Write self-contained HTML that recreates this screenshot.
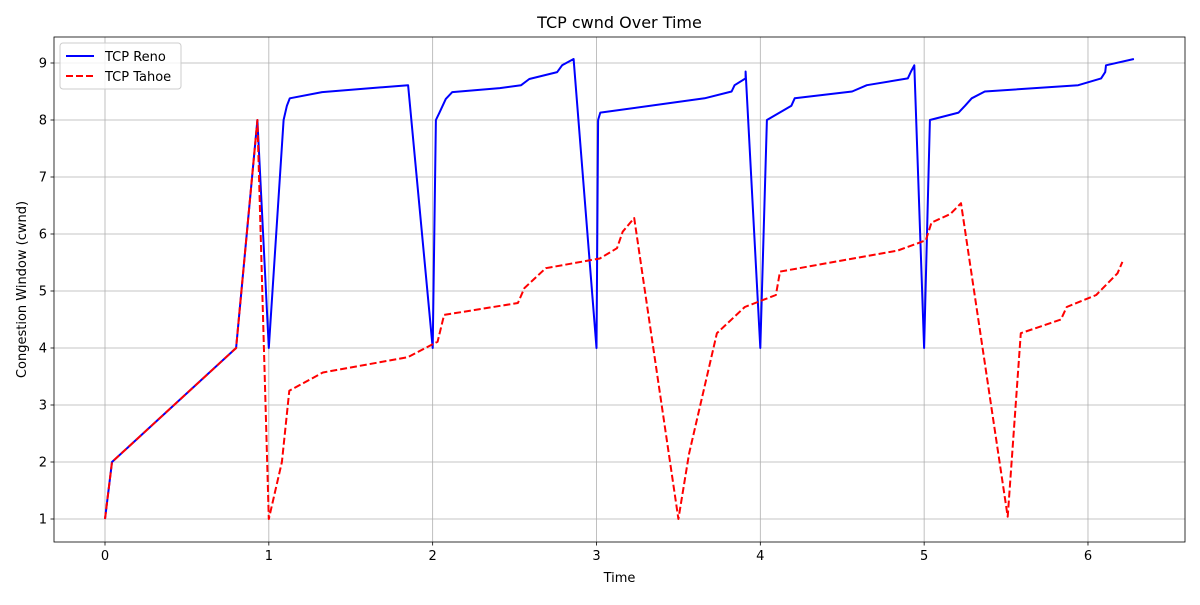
<!DOCTYPE html>
<html><head><meta charset="utf-8"><style>
body{margin:0;background:#fff;font-family:"Liberation Sans","DejaVu Sans",sans-serif}
svg text{font-family:"DejaVu Sans","Liberation Sans",sans-serif;fill:#000}
</style></head><body>
<svg id="chart" width="1200" height="600" xmlns="http://www.w3.org/2000/svg">
<rect width="1200" height="600" fill="#fff"/>
<g id="grid"></g>
<g id="marks"></g>
<rect x="54" y="37" width="1131" height="505" fill="none" stroke="#000" stroke-width="0.8"/>
<g id="ticks"></g>
<text x="619.5" y="28" font-size="16" text-anchor="middle">TCP cwnd Over Time</text>
<text x="619.5" y="582" font-size="13" text-anchor="middle">Time</text>
<text transform="translate(26,289.5) rotate(-90)" font-size="13" text-anchor="middle">Congestion Window (cwnd)</text>
<g>
<rect x="60" y="43" width="121" height="46" rx="3" fill="#fff" fill-opacity="0.8" stroke="#ccc"/>
<g>
<line x1="66" y1="56" x2="94" y2="56" stroke="#0000ff" stroke-width="2"/>
<text x="105" y="61" font-size="13">TCP Reno</text></g>
<g>
<line x1="66" y1="76" x2="94" y2="76" stroke="#ff0000" stroke-width="2" stroke-dasharray="7,3"/>
<text x="105" y="81" font-size="13">TCP Tahoe</text></g>
</g>
</svg>
<script>
const renoX=[0,0.043,0.8,0.93,1.0,1.09,1.11,1.128,1.325,1.85,2.0,2.02,2.04,2.08,2.12,2.41,2.54,2.59,2.76,2.79,2.86,3.0,3.01,3.023,3.66,3.825,3.843,3.91,3.91,4.0,4.04,4.19,4.21,4.56,4.65,4.90,4.92,4.94,5.0,5.035,5.21,5.25,5.29,5.37,5.94,6.08,6.105,6.11,6.28];
const renoY=[1,2,4,8,4,8,8.25,8.38,8.49,8.61,4,8,8.12,8.37,8.49,8.56,8.61,8.72,8.84,8.96,9.07,4,8,8.13,8.38,8.50,8.61,8.73,8.85,4,8,8.25,8.38,8.50,8.61,8.73,8.85,8.96,4,8,8.13,8.25,8.38,8.50,8.61,8.73,8.84,8.96,9.07];
const tahoeX=[0,0.043,0.8,0.93,1.0,1.08,1.125,1.33,1.85,2.03,2.07,2.52,2.56,2.69,3.02,3.125,3.16,3.23,3.50,3.565,3.735,3.905,4.095,4.12,4.84,5.01,5.045,5.16,5.225,5.51,5.59,5.835,5.87,6.05,6.18,6.21];
const tahoeY=[1,2,4,8,1,2,3.25,3.57,3.84,4.11,4.58,4.79,5.05,5.40,5.57,5.75,6.04,6.28,1,2.15,4.26,4.72,4.93,5.34,5.71,5.89,6.20,6.35,6.54,1.04,4.26,4.50,4.72,4.93,5.31,5.51];
const xTicks=[0,1,2,3,4,5,6];
const yTicks=[1,2,3,4,5,6,7,8,9];
const L=54,R=1185,T=37,B=542,xMin=-0.3113,xMax=6.5922,yMin=0.5965,yMax=9.4561;
function sx(v){return L+(v-xMin)/(xMax-xMin)*(R-L);}
function sy(v){return B-(v-yMin)/(yMax-yMin)*(B-T);}
const NS="http://www.w3.org/2000/svg";
function mk(tag,attrs,parent){const e=document.createElementNS(NS,tag);for(const k in attrs)e.setAttribute(k,attrs[k]);parent.appendChild(e);return e;}
const grid=document.getElementById('grid'),ticks=document.getElementById('ticks'),marks=document.getElementById('marks');
xTicks.forEach(t=>{const x=sx(t);
const g=mk('line',{x1:x,x2:x,y1:T,y2:B,stroke:'#b0b0b0','stroke-width':0.8},grid);


mk('line',{x1:x,x2:x,y1:B,y2:B+3.5,stroke:'#000','stroke-width':0.8},ticks);
const tx=mk('text',{x:x,y:B+18,'font-size':13,'text-anchor':'middle'},ticks);tx.textContent=t;

});
yTicks.forEach(t=>{const y=sy(t);
const g=mk('line',{x1:L,x2:R,y1:y,y2:y,stroke:'#b0b0b0','stroke-width':0.8},grid);


mk('line',{x1:L-3.5,x2:L,y1:y,y2:y,stroke:'#000','stroke-width':0.8},ticks);
const tx=mk('text',{x:L-7,y:y+4.5,'font-size':13,'text-anchor':'end'},ticks);tx.textContent=t;

});
function pts(xs,ys){return xs.map((x,i)=>sx(x).toFixed(1)+','+sy(ys[i]).toFixed(1)).join(' ');}
const reno=mk('polyline',{points:pts(renoX,renoY),fill:'none',stroke:'#0000ff','stroke-width':2,'stroke-linejoin':'round'},marks);


const tahoe=mk('polyline',{points:pts(tahoeX,tahoeY),fill:'none',stroke:'#ff0000','stroke-width':2,'stroke-dasharray':'7,3','stroke-linejoin':'round'},marks);


</script>
</body></html>
